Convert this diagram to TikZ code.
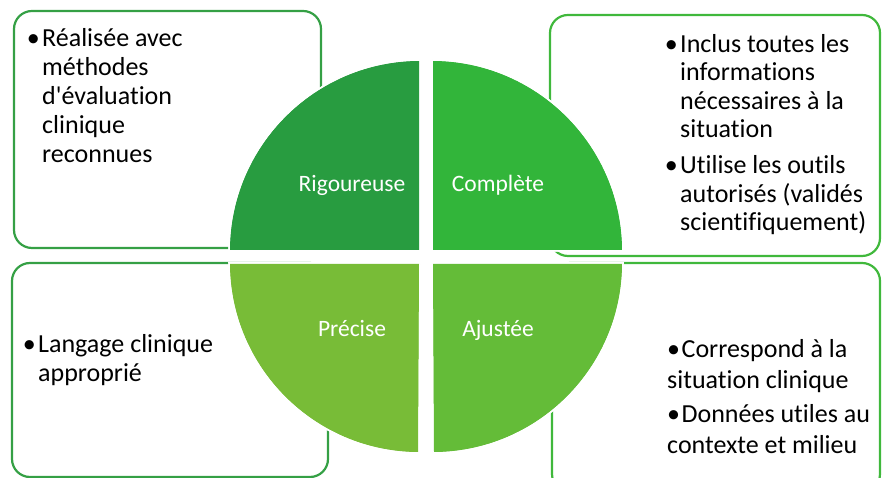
\documentclass[tikz,border=0pt]{standalone}
\usepackage{fontspec}
\setmainfont{Carlito}[Ligatures={NoCommon,NoRare}]
\definecolor{qtl}{HTML}{289C40}
\definecolor{qtr}{HTML}{32B53A}
\definecolor{qbl}{HTML}{78BC37}
\definecolor{qbr}{HTML}{64BC38}
\definecolor{lnA}{HTML}{35A045}
\definecolor{lnB}{HTML}{40B83C}
\newcommand{\hbul}{\llap{•\hspace{2.5pt}}}
\begin{document}
\begin{tikzpicture}[x=1pt,y=1pt,
  infobox/.style={rounded corners=18pt, line width=2.2pt},
  quad/.style={draw=white, line width=1.5pt},
  lbl/.style={text=white, font=\fontsize{23.5}{28.7}\selectfont, inner sep=0pt, anchor=base},
  txt/.style={text=black, align=left, inner sep=0pt, anchor=north west}]
\useasboundingbox (0,0) rectangle (882,478);
% boxes
\draw[infobox, draw=lnA] (14,230) rectangle (321,467);
\draw[infobox, draw=lnB] (550,222) rectangle (880,463);
\draw[infobox, draw=lnA] (12,1) rectangle (328,215);
\draw[infobox, draw=lnB] (552,-14) rectangle (880,215);
% quadrants
\fill[quad, fill=qtl] (420,227) -- (229,227) arc[start angle=180, end angle=90, radius=191] -- cycle;
\fill[quad, fill=qtr] (432,227) -- (432,418) arc[start angle=90, end angle=0, radius=191] -- cycle;
\fill[quad, fill=qbl] (420,215) -- (229,215) arc[start angle=180, end angle=270, radius=190] -- cycle;
\fill[quad, fill=qbr] (432,215) -- (623,215) arc[start angle=0, end angle=-90, radius=190] -- cycle;
\draw[quad] (420,227) -- (229,227) arc[start angle=180, end angle=90, radius=191] -- cycle;
\draw[quad] (432,227) -- (432,418) arc[start angle=90, end angle=0, radius=191] -- cycle;
\draw[quad] (420,215) -- (229,215) arc[start angle=180, end angle=270, radius=190] -- cycle;
\draw[quad] (432,215) -- (623,215) arc[start angle=0, end angle=-90, radius=190] -- cycle;
% labels
\node[lbl] (rig) at (352,286) {Rigoureuse};
\node[lbl] (com) at (498,286) {Complète};
\node[lbl] (pre) at (352,141) {Précise};
\node[lbl] (aju) at (498,141) {Ajustée};
% texts
\node[txt, font=\fontsize{26}{29}\selectfont] (ttl) at (42,450)
  {\hbul Réalisée avec\\méthodes\\d\textquotesingle évaluation\\clinique\\reconnues};
\node[txt, font=\fontsize{26}{28.5}\selectfont] (ttr) at (680,444)
  {\hbul Inclus toutes les\\informations\\nécessaires à la\\situation\\[7.5pt]\hbul Utilise les outils\\autorisés (validés\\scientifiquement)};
\node[txt, font=\fontsize{26}{29}\selectfont] (tbl) at (38,144)
  {\hbul Langage clinique\\approprié};
\node[txt, font=\fontsize{26}{31}\selectfont] (tbr) at (667,139)
  {•\hspace{1.5pt}Correspond à la\\situation clinique\\[3pt]•\hspace{1.5pt}Données utiles au\\contexte et milieu};
\end{tikzpicture}
\end{document}
